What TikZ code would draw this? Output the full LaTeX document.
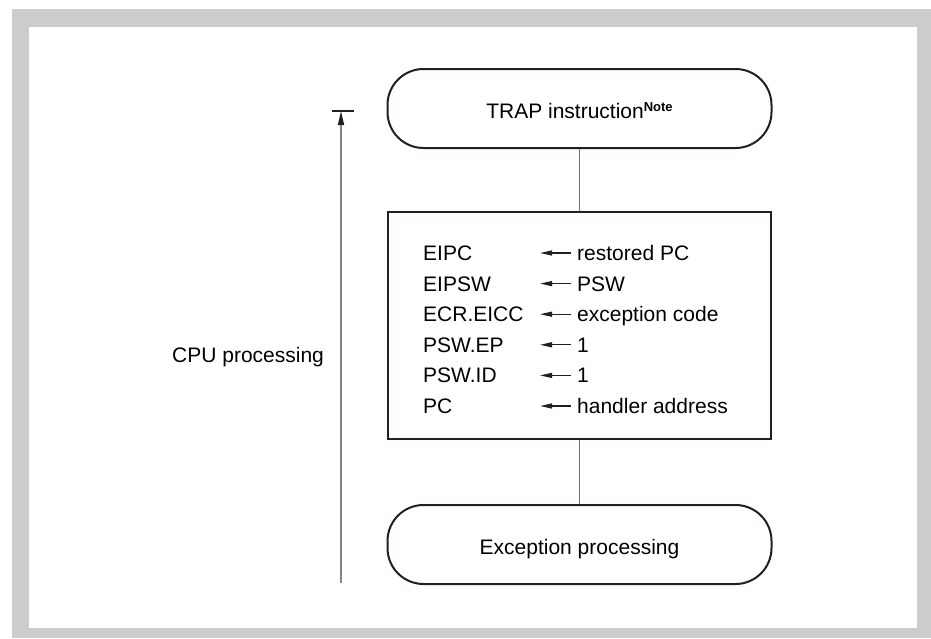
\documentclass[tikz,border=0pt]{standalone}
\usepackage{fontspec}
\setmainfont{Liberation Sans}
\usetikzlibrary{arrows.meta}
\definecolor{boxc}{HTML}{231F20}
\definecolor{frameg}{HTML}{CCCCCC}
\definecolor{linkg}{HTML}{6E6E6E}
\definecolor{axisg}{HTML}{858585}
\begin{document}
\begin{tikzpicture}[x=1pt,y=-1pt,
  txt/.style={font=\fontsize{21}{25}\selectfont, inner sep=0pt},
  stadium/.style={txt, draw=boxc, line width=2pt, minimum width=384pt, minimum height=79pt,
    rounded corners=36pt, text height=20pt, text depth=0pt},
  regbox/.style={draw=boxc, line width=2pt, minimum width=383pt, minimum height=227pt, inner sep=0pt},
  link/.style={draw=linkg, line width=1.2pt},
  rowarrow/.style={draw=boxc, line width=1.3pt, -{Triangle[length=12pt,width=5pt]}},
  axis/.style={draw=axisg, line width=1.5pt, -{Triangle[length=14pt,width=6pt,color=boxc]}},
  axisbar/.style={draw=boxc, line width=1.3pt}
]
\useasboundingbox (0,0) rectangle (931,638);
\fill[frameg] (12,9) rectangle (931,638);
\fill[white] (29,27) rectangle (917,628);

\node[stadium] (trap) at (579.5,108.5) {TRAP instruction\raisebox{7pt}{\fontsize{13}{13}\selectfont\bfseries Note}};
\node[regbox] (regs) at (579.5,325.5) {};
\node[stadium] (exc) at (579.5,544.5) {Exception processing};

\draw[link] (trap.south) -- (regs.north);
\draw[link] (regs.south) -- (exc.north);

\foreach \i/\l/\r in {0/EIPC/restored PC,1/EIPSW/PSW,2/ECR.EICC/exception code,3/PSW.EP/1,4/PSW.ID/1,5/PC/handler address}{
  \pgfmathsetmacro\yb{260.5+30.6*\i}
  \pgfmathsetmacro\yc{\yb-7.5}
  \node[txt, anchor=base west] (l\i) at (423,\yb) {\l};
  \node[txt, anchor=base west] (r\i) at (577,\yb) {\r};
  \coordinate (s\i) at (571,\yc);
  \coordinate (t\i) at (540,\yc);
  \draw[rowarrow] (s\i) -- (t\i);
}

\coordinate (abot) at (341,583);
\coordinate (atop) at (341,111);
\coordinate (barl) at (332,111);
\coordinate (barr) at (354,111);
\draw[axis] (abot) -- (atop);
\draw[axisbar] (barl) -- (barr);
\node[txt, anchor=base west] (cpu) at (172,362.5) {CPU processing};
\end{tikzpicture}
\end{document}
